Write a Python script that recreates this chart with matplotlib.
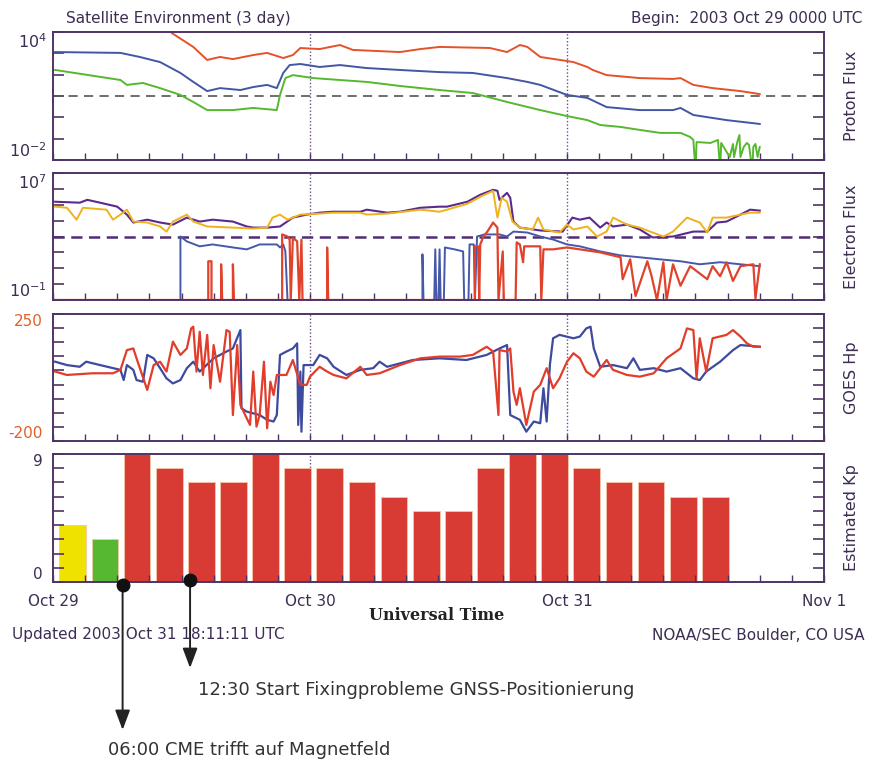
import numpy as np
import matplotlib
matplotlib.use('Agg')
import matplotlib.pyplot as plt
from matplotlib.ticker import FixedLocator, MultipleLocator, NullFormatter, NullLocator

# hours after 2003 Oct 29 00:00 UT (log10 for the flux panels)
p_red_t = [10.8, 11.1, 13.1, 14.4, 15.6, 16.8, 18.7, 20.0, 21.5, 22.4, 23.1, 24.9, 26.8, 28.0, 32.4, 34.3, 36.1, 40.8,
           42.4, 43.6, 44.3, 45.5, 48.0, 48.6, 49.9, 50.4, 51.7, 54.8, 57.9, 58.6, 59.8, 61.6, 64.2, 66.0]
p_red_log = [4.3, 3.95, 3.30, 2.69, 2.83, 2.73, 2.92, 3.02, 2.78, 2.92, 3.25, 3.20, 3.39, 3.16, 3.06, 3.20, 3.30, 3.25,
             3.06, 3.39, 3.30, 2.83, 2.64, 2.59, 2.36, 2.22, 1.98, 1.84, 1.80, 1.84, 1.52, 1.37, 1.23, 1.09]

p_blue_t = [0.2, 6.3, 8.1, 10.0, 11.9, 13.1, 14.4, 15.6, 17.5, 18.7, 20.0, 20.9, 21.5, 22.1, 23.1, 24.9, 26.8, 29.3,
            32.4, 36.1, 39.2, 42.4, 44.3, 45.5, 48.0, 49.9, 51.7, 54.8, 57.9, 58.6, 59.8, 62.9, 66.0]
p_blue_log = [3.06, 3.02, 2.83, 2.59, 2.08, 1.66, 1.23, 1.37, 1.28, 1.42, 1.52, 1.37, 2.08, 2.45, 2.50, 2.36, 2.45, 2.31,
              2.22, 2.12, 2.08, 1.84, 1.66, 1.52, 1.05, 0.91, 0.48, 0.34, 0.34, 0.44, 0.11, -0.13, -0.31]

p_green_t = [0.2, 6.3, 6.9, 8.4, 10.0, 11.9, 13.1, 14.4, 16.8, 18.7, 20.9, 21.2, 21.7, 22.4, 24.3, 29.3, 32.4, 36.1,
             39.2, 42.4, 45.5, 48.0, 49.9, 51.1, 53.0, 54.8, 56.7, 58.6, 59.5, 59.8, 60.0, 60.1, 61.4, 62.1, 62.3,
             62.4, 63.2, 63.5, 63.6, 63.9, 64.1, 64.2, 64.5, 64.8, 65.0, 65.3, 65.4, 65.6, 65.8, 66.0]
p_green_log = [2.22, 1.75, 1.52, 1.61, 1.37, 1.05, 0.72, 0.34, 0.34, 0.44, 0.34, 1.05, 1.84, 1.98, 1.84, 1.66, 1.47,
               1.28, 1.14, 0.72, 0.34, 0.06, -0.13, -0.36, -0.45, -0.59, -0.73, -0.73, -0.92, -1.06, -2.5, -1.16,
               -1.20, -1.06, -2.5, -1.20, -1.86, -1.25, -1.86, -1.16, -0.83, -1.86, -1.39, -1.20, -1.30, -2.5, -1.39,
               -1.25, -1.86, -1.39]

e_purple_t = [0.2, 2.5, 3.2, 4.4, 6.0, 6.9, 7.5, 8.8, 10.0, 11.2, 12.5, 13.7, 14.9, 16.8, 18.1, 18.7, 20.0, 21.2,
              22.4, 23.7, 24.9, 26.1, 28.7, 29.3, 31.2, 32.4, 34.3, 36.1, 36.8, 38.7, 39.9, 41.1, 41.5, 41.7, 42.0,
              42.4, 42.7, 43.0, 43.6, 45.5, 47.6, 48.5, 49.2, 50.1, 51.1, 51.7, 52.3, 53.6, 54.8, 56.0, 57.9, 59.8,
              61.1, 62.0, 62.9, 64.2, 65.1, 66.0]
e_purple_log = [5.19, 5.13, 5.31, 5.13, 4.88, 4.38, 3.88, 4.06, 3.88, 3.75, 4.19, 3.94, 4.06, 3.94, 3.63, 3.56, 3.56,
                3.63, 4.19, 4.38, 4.50, 4.56, 4.56, 4.69, 4.50, 4.56, 4.81, 4.88, 4.88, 5.19, 5.63, 5.94, 5.88, 5.31,
                5.50, 5.75, 5.44, 3.94, 3.56, 3.38, 3.31, 4.19, 4.06, 4.19, 3.56, 3.88, 3.63, 3.75, 3.44, 2.94, 3.00,
                3.31, 3.31, 3.88, 3.94, 4.38, 4.69, 4.63]

e_yellow_t = [0.2, 1.3, 2.2, 2.8, 5.0, 5.6, 6.3, 6.9, 7.5, 8.8, 10.0, 10.6, 11.2, 12.5, 13.1, 14.4, 16.8, 18.7, 20.0,
              20.5, 21.2, 21.9, 23.1, 24.9, 26.1, 28.7, 29.3, 31.2, 34.3, 36.1, 36.8, 38.7, 39.9, 41.1, 41.5, 41.9,
              42.4, 42.9, 43.6, 44.8, 45.3, 45.8, 47.3, 48.0, 48.6, 49.9, 50.8, 51.7, 52.3, 53.6, 54.8, 56.0, 57.0,
              57.9, 59.2, 60.4, 61.1, 61.6, 62.9, 64.2, 65.1, 66.0]
e_yellow_log = [4.88, 4.81, 4.06, 4.81, 4.69, 4.06, 4.38, 4.69, 3.94, 3.88, 3.63, 3.31, 3.94, 4.38, 3.94, 3.63, 3.56,
                3.50, 3.56, 4.19, 4.38, 4.06, 4.38, 4.44, 4.50, 4.50, 4.38, 4.44, 4.69, 4.56, 4.69, 5.06, 5.50, 5.88,
                4.19, 5.44, 5.19, 3.94, 3.56, 3.44, 4.19, 3.44, 3.25, 3.75, 3.44, 3.63, 3.00, 3.31, 4.19, 3.75, 3.56,
                3.25, 3.00, 3.31, 4.19, 3.88, 3.25, 4.19, 4.19, 4.38, 4.50, 4.50]

e_blue_t = [11.9, 11.9, 12.5, 13.7, 14.9, 16.8, 18.1, 19.3, 20.9, 21.2, 21.5, 21.7, 21.9, 34.5, 34.5, 34.6, 35.6,
            35.7, 35.8, 36.0, 36.1, 36.2, 36.5, 36.6, 37.5, 38.3, 38.4, 38.8, 38.9, 39.3, 39.4, 39.6, 40.3, 41.7,
            42.4, 43.0, 44.3, 45.5, 46.7, 48.0, 49.2, 51.1, 53.0, 54.8, 56.7, 58.6, 60.4, 62.3, 64.2, 66.0]
e_blue_log = [-1, 3.0, 2.69, 2.38, 2.5, 2.31, 2.19, 2.5, 2.5, 2.31, 2.5, 2.06, -1, -1, 1.88, -1, -1, 2.19, -1, -1,
              2.19, -1, -1, 2.31, 2.19, 2.06, -1, -1, 2.5, 2.5, -1, 3.0, 3.13, 3.13, 3.0, 3.31, 3.25, 3.0, 2.81, 2.5,
              2.38, 2.06, 1.81, 1.69, 1.56, 1.44, 1.25, 1.38, 1.25, 1.13]

e_red_t = [0.0, 14.5, 14.5, 14.8, 14.8, 15.7, 15.7, 15.8, 16.8, 16.8, 16.9, 21.4, 21.4, 21.9, 22.1, 22.2, 22.4, 22.8,
           23.0, 23.2, 23.3, 25.6, 25.6, 25.7, 39.4, 39.4, 39.7, 39.8, 39.9, 40.2, 40.5, 40.8, 41.1, 41.5, 41.6,
           42.0, 42.1, 43.2, 43.3, 43.6, 43.9, 44.0, 44.8, 45.5, 45.6, 45.8, 46.7, 48.0, 49.2, 51.1, 53.0, 53.2,
           53.9, 54.4, 55.5, 55.9, 56.4, 57.0, 57.3, 57.9, 58.6, 59.5, 61.1, 61.6, 62.3, 62.9, 63.5, 64.2, 65.4,
           65.6, 66.0]
e_red_log = [-1, -1, 1.44, 1.44, -1, -1, 1.25, -1, -1, 1.25, -1, -1, 3.13, 3.0, 2.81, -1, 2.9, 2.7, -1, 2.8, -1, -1,
             2.31, -1, -1, 2.38, 2.38, -1, 2.5, 3.0, 3.25, 3.56, 3.88, 3.56, -1, 2.06, -1, -1, 2.63, 2.5, 1.38, 2.38,
             2.38, 2.38, -1, 2.19, 2.19, 2.31, 2.19, 2.0, 1.69, 0.31, 1.56, -0.75, 1.44, 0.5, -1, 1.38, -1, 1.25,
             -0.1, 1.13, 0.31, 1.13, 0.5, 1.38, 0.2, 1.13, 1.25, -0.9, 1.25]

hp_blue_t = [0.2, 1.3, 2.5, 3.1, 4.4, 6.3, 6.6, 6.9, 7.5, 7.8, 8.4, 8.8, 9.4, 10.0, 10.6, 11.2, 11.9, 12.5, 13.1,
             13.7, 15.0, 15.6, 16.2, 16.8, 17.5, 17.6, 18.1, 19.3, 20.0, 20.6, 20.9, 21.2, 21.8, 22.4, 22.8, 22.9,
             23.1, 23.2, 23.4, 24.3, 24.9, 25.6, 26.2, 27.4, 28.7, 29.9, 30.5, 31.2, 32.4, 33.6, 36.1, 38.6, 40.5,
             41.7, 42.4, 42.7, 43.6, 44.2, 44.9, 45.5, 45.8, 46.1, 46.4, 46.7, 47.3, 48.6, 49.2, 49.8, 50.2, 50.5,
             51.1, 52.3, 53.6, 54.2, 54.8, 56.1, 57.3, 58.6, 59.8, 60.4, 61.0, 62.3, 63.5, 64.2, 66.0]
hp_blue = [81, 69, 63, 81, 69, 52, 16, 69, 52, 16, 10, 105, 93, 58, 22, 4, 16, 58, 81, 46, 93, 105, 117, 128, 193,
           -84, -96, -108, -125, -131, -108, 105, 117, 128, 146, -143, 46, -167, 69, 69, 105, 93, 63, 34, 52, 58,
           81, 63, 75, 87, 93, 87, 105, 128, 140, -108, -125, -167, -131, -137, -13, -131, 69, 164, 176, 164, 170,
           199, 205, 128, 63, 69, 58, 93, 52, 58, 46, 58, 22, 16, 46, 81, 122, 140, 134]

hp_red_t = [0.2, 1.3, 3.7, 5.6, 6.3, 6.9, 7.5, 7.8, 8.8, 9.4, 10.0, 10.6, 11.2, 11.9, 12.5, 12.9, 13.1, 13.4, 13.7,
            14.0, 14.4, 14.7, 15.0, 15.6, 16.2, 16.5, 16.8, 17.2, 17.5, 18.1, 18.4, 18.7, 19.0, 19.3, 19.7, 20.0,
            20.3, 20.6, 20.9, 21.8, 22.4, 23.1, 23.7, 24.0, 24.9, 25.6, 26.2, 27.4, 28.7, 29.3, 30.5, 32.4, 34.3,
            36.1, 38.0, 39.2, 40.5, 41.1, 41.6, 41.7, 42.4, 42.7, 43.0, 43.3, 43.6, 44.2, 44.9, 45.5, 46.1, 46.7,
            47.3, 48.0, 48.6, 49.2, 49.8, 50.5, 51.7, 52.3, 53.6, 54.8, 56.1, 57.3, 58.6, 59.2, 59.8, 60.1, 60.4,
            61.0, 61.6, 62.9, 63.5, 64.2, 64.8, 65.4, 66.0]
hp_red = [46, 34, 40, 40, 52, 122, 128, 93, -19, 69, 81, 46, 152, 105, 128, 199, 205, 46, 187, 34, 176, -13, 140, 10,
          193, 187, -108, 140, -72, -120, -143, 46, -149, -108, 81, -155, 10, -37, 34, 34, 87, -1, -1, 28, 63, 46,
          34, 22, 63, 34, 40, 69, 93, 99, 99, 105, 134, 117, -108, 122, 117, 128, -25, -72, -13, -143, -25, -1, 58,
          -13, 22, 81, 111, 93, 46, 28, 87, 52, 34, 28, 40, 93, 128, 199, 193, 22, 164, 46, 164, 176, 193, 170, 146,
          134, 134]

# estimated Kp, 3-hour bins from Oct 29 00 UT
kp = [4, 3, 9, 8, 7, 7, 9, 8, 8, 7, 6, 5, 5, 8, 9, 9, 8, 7, 7, 6, 6]

day_labels = ['Oct 29', 'Oct 30', 'Oct 31', 'Nov 1']

FRAME = '#4e3466'
TXT = '#3d2d52'

fig = plt.figure(figsize=(8.77, 7.62), dpi=100)


def panel(top, bottom):
    return fig.add_axes([53 / 877, 1 - bottom / 762, 771 / 877, (bottom - top) / 762])


ax1 = panel(32, 160)
ax2 = panel(173, 300)
ax3 = panel(314, 441)
ax4 = panel(454, 582)

for ax in (ax1, ax2, ax3, ax4):
    ax.set_xlim(0, 72)
    ax.xaxis.set_major_locator(MultipleLocator(24))
    ax.xaxis.set_minor_locator(MultipleLocator(3))
    ax.tick_params(axis='x', which='both', direction='in', length=5, width=1, color=FRAME, labelbottom=False)
    ax.tick_params(axis='y', which='both', direction='in', length=8, width=1.2, color=FRAME,
                   left=True, right=True, labelleft=False)
    ax.yaxis.set_minor_locator(NullLocator())
    for s in ax.spines.values():
        s.set_color(FRAME)
        s.set_linewidth(1.4)
    for d in (24, 48):
        ax.axvline(d, color='#6b4c8c', lw=1, ls=(0, (1, 1.5)), zorder=0.5)

# proton flux
ax1.set_yscale('log')
ax1.set_ylim(1e-2, 1e4)
ax1.yaxis.set_major_locator(FixedLocator(10.0 ** np.arange(-2, 5)))
ax1.yaxis.set_minor_locator(NullLocator())
ax1.yaxis.set_major_formatter(NullFormatter())
ax1.axhline(10, color='#555555', lw=1.2, ls=(0, (5.5, 3.8)))
ax1.plot(p_red_t, 10 ** np.array(p_red_log), color='#e5522a', lw=1.4)
ax1.plot(p_blue_t, 10 ** np.array(p_blue_log), color='#4356a3', lw=1.4)
ax1.plot(p_green_t, 10 ** np.array(p_green_log), color='#55b82f', lw=1.4)

# electron flux
ax2.set_yscale('log')
ax2.set_ylim(1e-1, 1e7)
ax2.yaxis.set_major_locator(FixedLocator(10.0 ** np.arange(-1, 8)))
ax2.yaxis.set_minor_locator(NullLocator())
ax2.yaxis.set_major_formatter(NullFormatter())
ax2.axhline(1e3, color='#4e2f75', lw=1.8, ls=(0, (4.5, 2.6)))
ax2.plot(e_purple_t, 10 ** np.array(e_purple_log), color='#5b2a8c', lw=1.5)
ax2.plot(e_yellow_t, 10 ** np.array(e_yellow_log), color='#f0b21c', lw=1.4)
ax2.plot(e_blue_t, 10 ** np.array(e_blue_log), color='#4758a8', lw=1.4)
ax2.plot(e_red_t, 10 ** np.array(e_red_log), color='#e0422b', lw=1.6)

# GOES Hp
ax3.set_ylim(-200, 250)
ax3.yaxis.set_major_locator(MultipleLocator(50))
ax3.plot(hp_blue_t, hp_blue, color='#3d4a9e', lw=1.6)
ax3.plot(hp_red_t, hp_red, color='#e23c2a', lw=1.6)

# estimated Kp
kp_start = np.arange(len(kp)) * 3
kp_colors = ['#55b830' if k < 4 else '#efe100' if k == 4 else '#d73b33' for k in kp]
ax4.bar(kp_start + 0.6, kp, width=2.5, align='edge', color=kp_colors, edgecolor='#f3c8a6', linewidth=0.6)
ax4.set_ylim(0, 9)
ax4.yaxis.set_major_locator(MultipleLocator(1))
ax4.set_xticks([0, 24, 48, 72])
ax4.set_xticklabels(day_labels)
ax4.tick_params(axis='x', labelbottom=True, pad=9, labelsize=11, labelcolor=TXT)

# end labels on the left
ax1.text(-0.008, 1, '$10^{4}$', transform=ax1.transAxes, ha='right', va='top', fontsize=11.5, color=TXT)
ax1.text(-0.008, 0, '$10^{-2}$', transform=ax1.transAxes, ha='right', va='bottom', fontsize=11.5, color=TXT)
ax2.text(-0.008, 1, '$10^{7}$', transform=ax2.transAxes, ha='right', va='top', fontsize=11.5, color=TXT)
ax2.text(-0.008, 0, '$10^{-1}$', transform=ax2.transAxes, ha='right', va='bottom', fontsize=11.5, color=TXT)
ax3.text(-0.013, 1, '250', transform=ax3.transAxes, ha='right', va='top', fontsize=11, color='#e0602a')
ax3.text(-0.013, 0, '-200', transform=ax3.transAxes, ha='right', va='bottom', fontsize=11, color='#e0602a')
ax4.text(-0.013, 1, '9', transform=ax4.transAxes, ha='right', va='top', fontsize=11, color=TXT)
ax4.text(-0.013, 0, '0', transform=ax4.transAxes, ha='right', va='bottom', fontsize=11, color=TXT)

for ax, name in ((ax1, 'Proton Flux'), (ax2, 'Electron Flux'), (ax3, 'GOES Hp'), (ax4, 'Estimated Kp')):
    ax.text(1.036, 0.5, name, transform=ax.transAxes, rotation=90, ha='center', va='center',
            fontsize=11.5, color=TXT)

fig.text(66 / 877, 1 - 18 / 762, 'Satellite Environment (3 day)', va='center', fontsize=11, color=TXT)
fig.text(862 / 877, 1 - 18 / 762, 'Begin:  2003 Oct 29 0000 UTC', ha='right', va='center', fontsize=11, color=TXT)
fig.text(437 / 877, 1 - 615 / 762, 'Universal Time', ha='center', va='center', fontsize=11.5,
         fontweight='bold', family='DejaVu Serif', color='#222222')
fig.text(12 / 877, 1 - 635 / 762, 'Updated 2003 Oct 31 18:11:11 UTC', va='center', fontsize=11, color=TXT)
fig.text(865 / 877, 1 - 635 / 762, 'NOAA/SEC Boulder, CO USA', ha='right', va='center', fontsize=11, color=TXT)

# event markers below the Kp panel
events = [(6.5, -0.023, -1.156), (12.8, 0.016, -0.672)]
xt = ax4.get_xaxis_transform()
for x, y0, y1 in events:
    ax4.plot([x], [y0], 'o', ms=9, color='#111111', transform=xt, clip_on=False, zorder=5)
    ax4.annotate('', xy=(x, y1), xytext=(x, y0), xycoords=xt, textcoords=xt, annotation_clip=False,
                 arrowprops=dict(arrowstyle='-|>,head_length=0.8,head_width=0.3', color='#222222',
                                 lw=1.4, mutation_scale=15, shrinkA=0, shrinkB=0))
fig.text(198 / 877, 1 - 690 / 762, '12:30 Start Fixingprobleme GNSS-Positionierung', va='center',
         fontsize=13, color='#333333')
fig.text(108 / 877, 1 - 750 / 762, '06:00 CME trifft auf Magnetfeld', va='center', fontsize=13, color='#333333')

fig.savefig('out.png', dpi=100)
